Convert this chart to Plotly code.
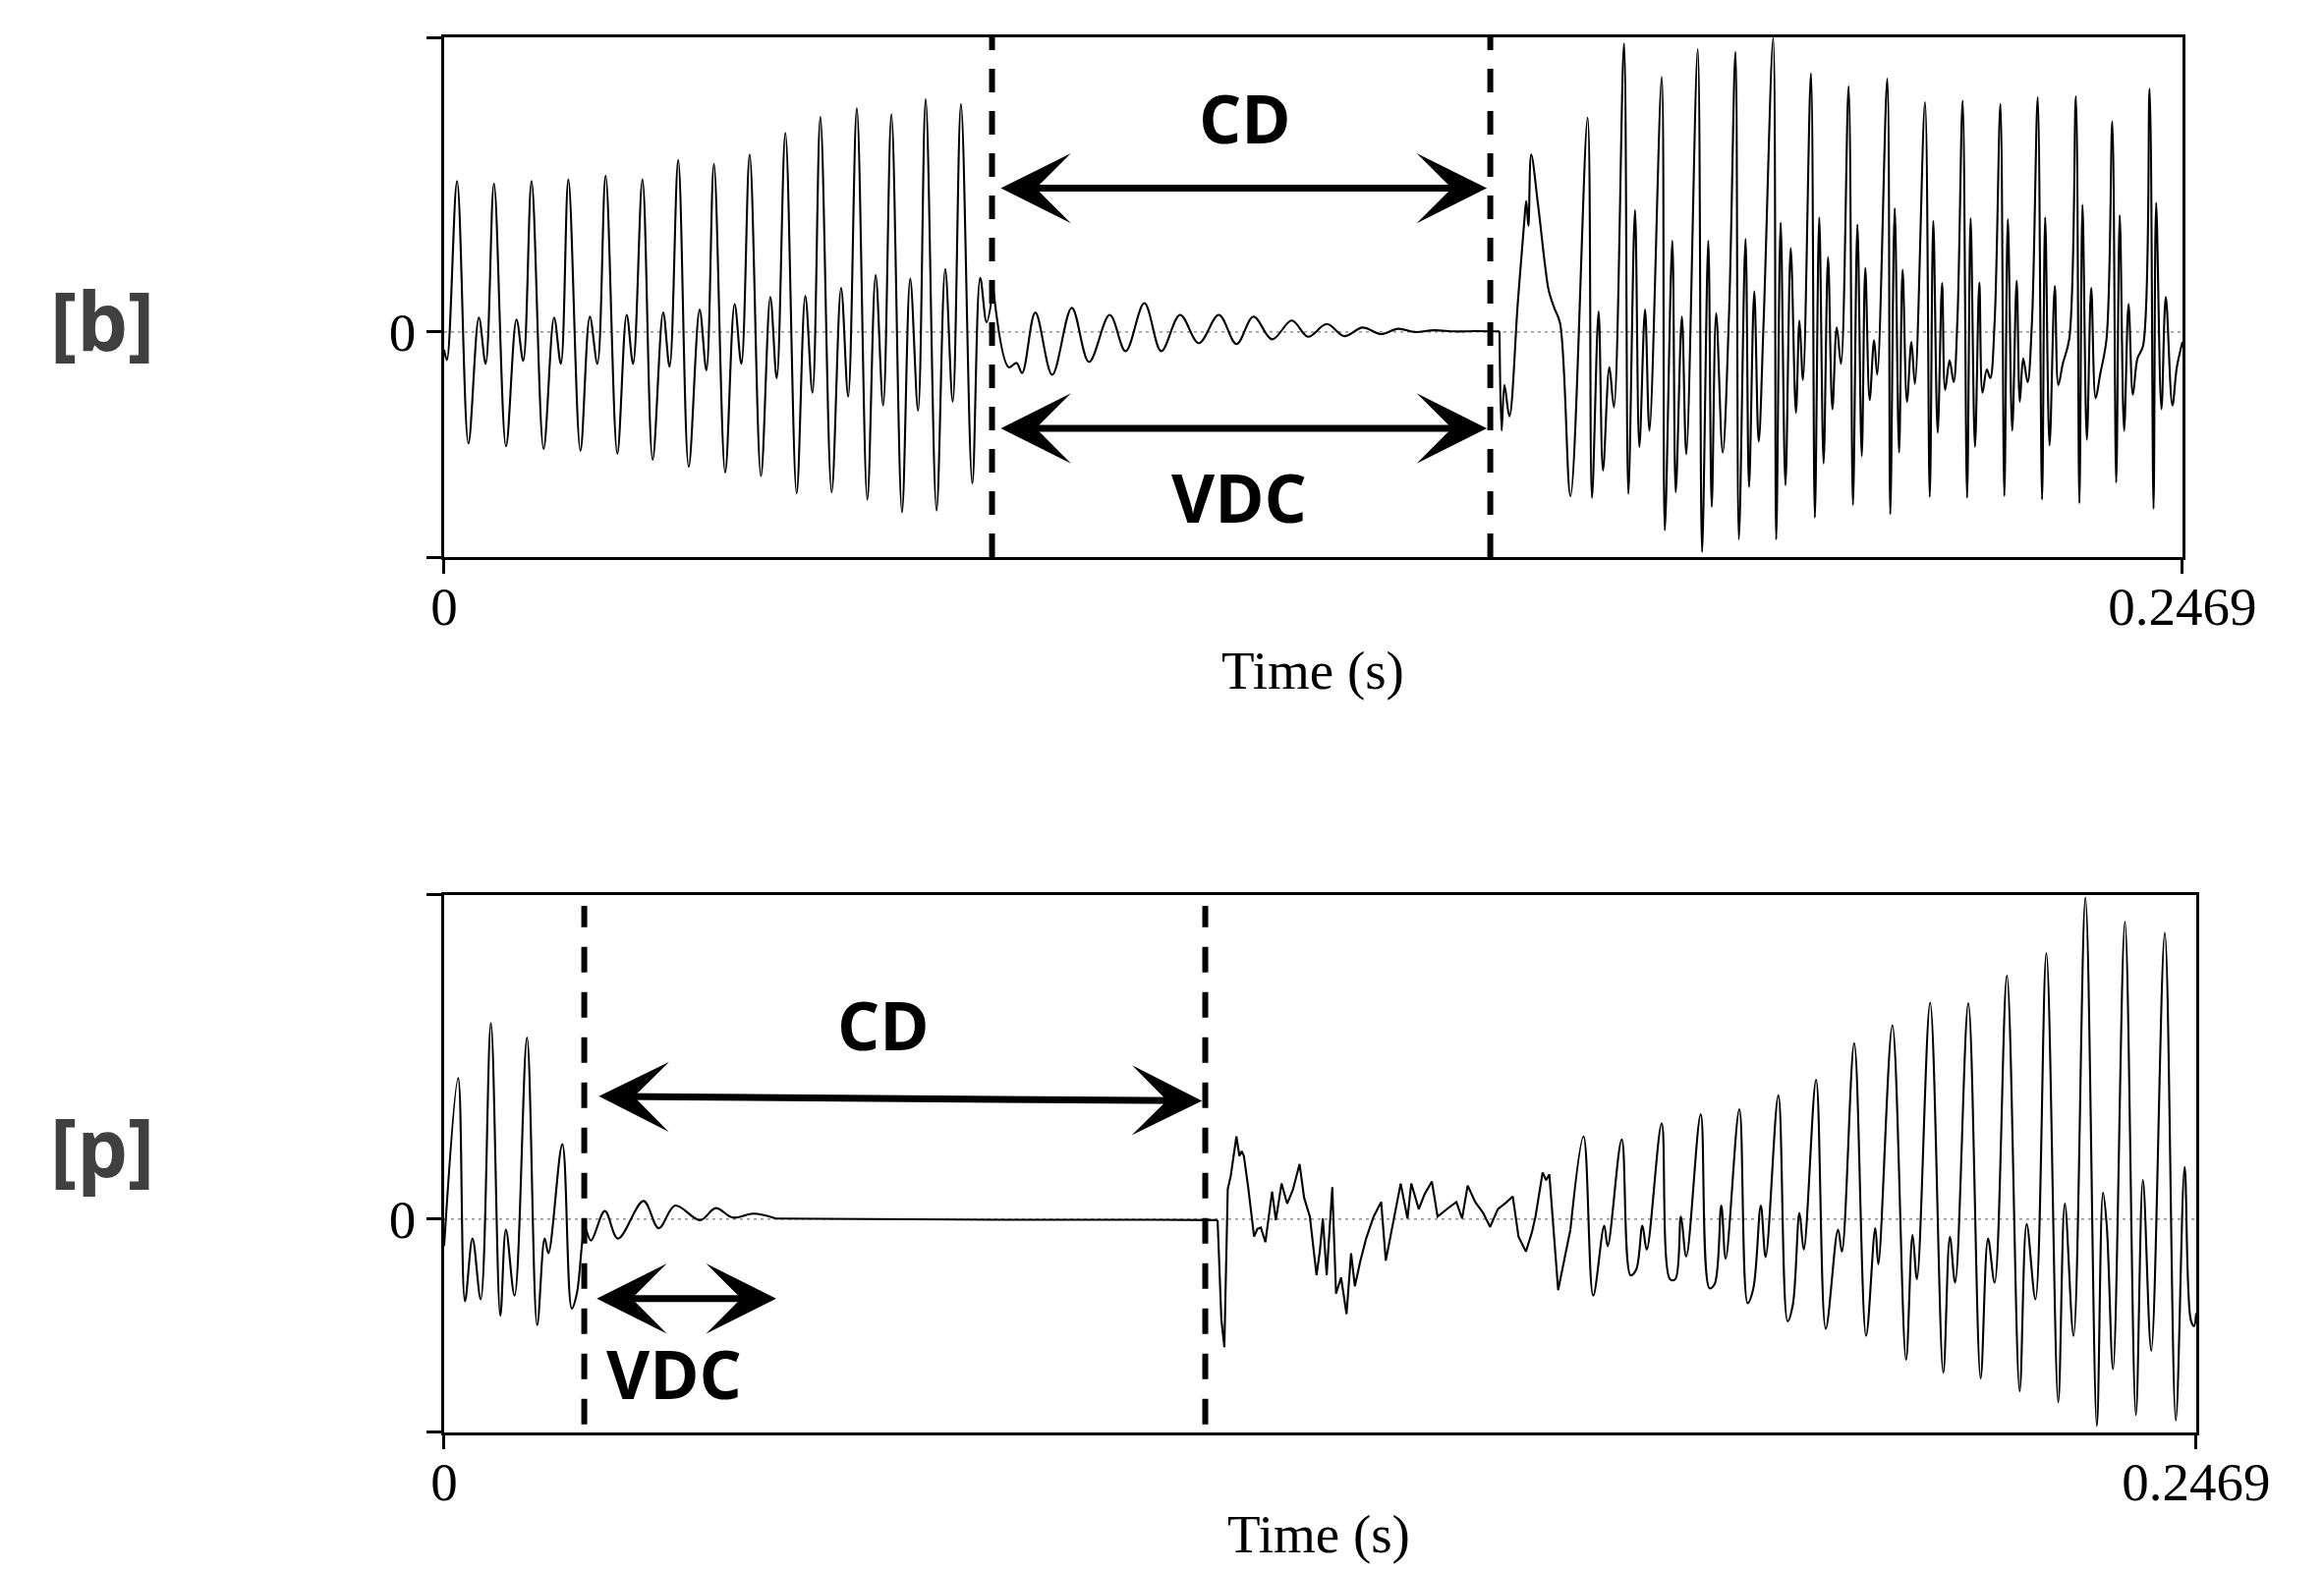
import plotly.graph_objects as go

# ---------------- data ----------------
# time in ms, amplitude normalised (top of each panel = 1)
time_ticks = [0, 0.2469]
time_tick_labels = ["0", "0.2469"]

# [b] panel
b_voicing = [(0.0,-0.06),(0.4,-0.095),
    (1.84,0.512),(3.45,-0.378),(4.94,0.049),(5.90,-0.108),
    (7.08,0.504),(8.79,-0.388),(10.28,0.042),(11.24,-0.098),
    (12.42,0.512),(14.13,-0.397),(15.62,0.049),(16.58,-0.108),
    (17.65,0.518),(19.36,-0.403),(20.70,0.052),(21.77,-0.108),
    (22.94,0.531),(24.60,-0.413),(25.93,0.058),(26.84,-0.108),
    (28.17,0.518),(29.62,-0.434),(31.11,0.066),(32.02,-0.118),
    (33.25,0.584),(34.74,-0.458),(36.29,0.076),(37.25,-0.130),
    (38.32,0.571),(39.92,-0.477),(41.26,0.095),(42.22,-0.108),
    (43.40,0.602),(45.00,-0.489),(46.33,0.119),(47.24,-0.157),
    (48.47,0.676),(50.07,-0.548),(51.30,0.122),(52.32,-0.206),
    (53.44,0.730),(55.04,-0.544),(56.38,0.150),(57.39,-0.219),
    (58.62,0.760),(60.11,-0.569),(61.29,0.193),(62.36,-0.249),
    (63.53,0.739),(65.03,-0.612),(66.20,0.181),(67.32,-0.267),
    (68.40,0.791),(69.94,-0.606),(71.17,0.214),(72.24,-0.237),
    (73.41,0.774),(75.02,-0.514),(76.14,0.184),(77.05,0.033),(77.99,0.15)]
b_closure = [(77.99,0.15),(80.2,-0.12),(81.3,-0.105),(82.1,-0.139),(83.97,0.066),
    (86.37,-0.145),(89.15,0.082),(91.6,-0.102),(94.54,0.058),(96.79,-0.065),
    (99.46,0.098),(101.86,-0.065),(104.53,0.058),(107.2,-0.038),(110.03,0.058),
    (112.54,-0.041),(114.95,0.052),(117.6,-0.025),(120.4,0.039),(122.7,-0.016),
    (125.36,0.027),(127.87,-0.014),(130.43,0.015),(133.1,-0.007),(135.5,0.011),
    (137.9,0.0),(140.6,0.006),(143.5,0.002),(146.5,0.003),(149.9,0.002)]
b_release = [(149.9,0.002),(150.2,-0.335),(150.6,-0.18),(151.3,-0.286),(152.5,0.1),
    (153.4,0.371),(153.7,0.445),(154.0,0.36),(154.4,0.602),(155.4,0.426),(156.4,0.22),
    (156.9,0.14),(157.7,0.08),(158.5,0.03),(159.98,-0.557),(162.41,0.727),(163.03,-0.563),
    (163.97,0.07),(164.6,-0.47),(165.5,-0.12),(166.15,-0.255),(167.58,0.979),(168.2,-0.55),
    (169.14,0.414),(169.76,-0.39),(170.57,0.076),(171.2,-0.335),(172.94,0.866),(173.38,-0.673),
    (174.44,0.31),(174.93,-0.544),(175.8,0.052),(176.43,-0.415),(178.05,0.96),(178.67,-0.747),
    (179.55,0.31),(180.04,-0.593),(180.67,0.064),(181.6,-0.409),(182.5,0.064),(183.41,0.951),
    (183.9,-0.704),(184.84,0.316),(185.34,-0.526),(186.08,0.138),(186.71,-0.372),(187.4,0.027),
    (188.77,0.998),(189.2,-0.704),(189.83,0.371),(190.51,-0.52),(191.26,0.285),(192.0,-0.274),
    (192.5,0.039),(193.0,-0.163),(194.13,0.878),(194.69,-0.63),(195.31,0.389),(195.93,-0.446),
    (196.56,0.254),(197.18,-0.262),(197.8,0.015),(198.4,-0.108),(199.48,0.834),(200.1,-0.587),
    (200.73,0.365),(201.35,-0.421),(201.85,0.217),(202.47,-0.231),(203.1,-0.028),(203.55,-0.145),
    (204.97,0.86),(205.4,-0.618),(206.03,0.42),(206.65,-0.409),(207.15,0.211),(207.77,-0.237),
    (208.4,-0.034),(208.9,-0.176),(210.33,0.78),(211.01,-0.56),(211.51,0.377),(212.13,-0.342),
    (212.76,0.166),(213.2,-0.197),(213.82,-0.096),(214.4,-0.17),(214.94,0.045),(215.68,0.786),
    (216.31,-0.563),(216.81,0.386),(217.43,-0.39),(218.05,0.168),(218.5,-0.206),(219.11,-0.127),
    (219.6,-0.157),(220.23,0.039),(221.04,0.774),(221.6,-0.557),(222.1,0.383),(222.72,-0.335),
    (223.35,0.174),(223.8,-0.237),(224.28,-0.09),(224.9,-0.17),(225.53,0.039),(226.34,0.797),
    (226.96,-0.569),(227.4,0.389),(228.02,-0.385),(228.77,0.156),(229.27,-0.18),(229.9,-0.108),
    (230.83,-0.022),(231.76,0.80),(232.26,-0.581),(232.7,0.432),(233.32,-0.366),(233.94,0.15),
    (234.57,-0.225),(235.2,-0.145),(236.12,-0.022),(236.93,0.715),(237.49,-0.511),(237.99,0.396),
    (238.61,-0.335),(239.24,0.095),(239.86,-0.213),(240.5,-0.09),(241.3,-0.047),(242.23,0.826),
    (242.79,-0.6),(243.16,0.439),(243.91,-0.262),(244.53,0.119),(245.47,-0.249),(246.1,-0.12),
    (246.9,-0.034)]

# [p] panel
p_voicing = [(0.0,-0.083),(1.98,0.435),(2.94,-0.253),(4.0,-0.06),(5.16,-0.247),(6.59,0.605),
    (7.92,-0.298),(8.71,-0.032),(9.93,-0.236),(11.68,0.56),(13.11,-0.327),(14.17,-0.06),
    (14.7,-0.105),(16.66,0.231),(17.99,-0.276),(18.7,-0.23),(19.47,-0.071),(19.84,-0.026),
    (20.69,-0.066),(22.65,0.025),(24.5,-0.06),(28.1,0.056),(30.23,-0.028),(32.56,0.042),
    (36.06,-0.003),(38.28,0.034),(40.67,0.005),(43.58,0.017),(46.76,0.002)]
p_closure = [(46.76,0.002),(60.0,0.0),(80.0,-0.002),(100.0,-0.002),(109.0,-0.003)]
p_burst = [(109.0,-0.003),(109.53,-0.31),(109.95,-0.395),(110.43,0.093),(110.85,0.133),
    (111.25,0.2),(111.65,0.255),(112.07,0.195),(112.4,0.21),(112.7,0.195),(113.3,0.1),
    (114.14,-0.054),(114.6,-0.03),(115.09,-0.026),(115.73,-0.071),(116.68,0.085),(117.21,-0.003),
    (118.01,0.11),(118.8,0.048),(119.6,0.09),(120.55,0.17),(121.2,0.065),(122.0,0.008),
    (122.94,-0.173),(123.4,-0.1),(123.83,0.002),(124.37,-0.173),(125.16,0.099),(125.69,-0.23),
    (126.4,-0.18),(127.17,-0.293),(127.81,-0.105),(128.34,-0.207),(129.13,-0.128),(129.93,-0.06),
    (130.99,0.008),(132.05,0.053),(132.7,-0.128),(133.64,-0.026),(134.8,0.11),(135.76,0.002),
    (136.29,0.11),(137.35,0.031),(138.15,0.076),(139.2,0.116),(140.0,0.008),(141.6,0.036),
    (142.65,0.053),(143.45,0.002),(144.24,0.104),(145.3,0.053),(146.4,0.02),(147.4,-0.024),
    (148.5,0.031),(149.6,0.05),(150.6,0.07),(151.4,-0.054),(152.45,-0.1),(153.3,-0.04),
    (153.8,0.008),(154.8,0.144),(155.3,0.12),(155.75,0.138),(156.99,-0.219),(157.9,-0.12),
    (158.72,-0.032)]
p_vowel = [(158.72,-0.032),(160.57,0.255),(161.93,-0.236),(163.48,-0.02),(163.97,-0.083),
    (165.95,0.246),(167.19,-0.173),(167.99,-0.156),(168.86,-0.02),(169.47,-0.094),(171.58,0.295),
    (172.75,-0.185),(173.5,-0.185),(174.29,0.008),(175.04,-0.115),(177.08,0.323),(178.31,-0.213),
    (179.05,-0.2),(179.98,0.042),(180.6,-0.122),(182.52,0.339),(183.69,-0.259),(184.5,-0.213),
    (185.55,0.042),(186.23,-0.117),(188.02,0.382),(189.32,-0.315),(190.06,-0.264),(190.99,0.019),
    (191.6,-0.094),(193.34,0.43),(194.7,-0.338),(196.43,-0.032),(196.98,-0.1),(198.71,0.543),
    (200.38,-0.36),(201.68,-0.028),(202.11,-0.139),(204.09,0.598),(206.01,-0.434),(206.93,-0.049),
    (207.55,-0.185),(209.41,0.668),(211.26,-0.474),(212.19,-0.054),(212.93,-0.196),(214.79,0.666),
    (216.52,-0.491),(217.57,-0.06),(218.5,-0.196),(220.23,0.751),(222.02,-0.531),(223.01,-0.015),
    (224.25,-0.247),(225.79,0.821),(227.46,-0.565),(228.39,0.048),(229.62,-0.36),(231.29,0.992),
    (232.9,-0.638),(233.77,0.082),(234.3,-0.02),(235.19,-0.463),(236.86,0.917),(238.4,-0.604),
    (239.39,0.121),(240.57,-0.406),(242.48,0.883),(244.03,-0.621),(245.27,0.161),(246.13,-0.31),
    (246.6,-0.33),(246.9,-0.29)]

# segment boundaries (s) and arrow spans (s, amplitude)
b_boundaries = [0.07782, 0.14859]
p_boundaries = [0.01975, 0.10726]
b_cd_arrow = (0.07886, 0.1481, 0.488, 0.488)
b_vdc_arrow = (0.07886, 0.1481, -0.327, -0.327)
p_cd_arrow = (0.0216, 0.1068, 0.379, 0.365)
p_vdc_arrow = (0.0213, 0.0468, -0.245, -0.245)
b_yrange = [-0.764, 1.0]
p_yrange = [-0.658, 1.0]

# ---------------- figure ----------------
fig = go.Figure()
WAVE = dict(color="#000000", width=2.1)

def add_seg(seg, xa, ya, shape):
    fig.add_trace(go.Scatter(
        x=[t / 1000 for t, _ in seg], y=[a for _, a in seg],
        xaxis=xa, yaxis=ya, mode="lines",
        line=dict(shape=shape, smoothing=1.0 if shape == "spline" else None, **WAVE),
        hoverinfo="skip", showlegend=False))

add_seg(b_voicing, "x", "y", "spline")
add_seg(b_closure, "x", "y", "spline")
add_seg(b_release, "x", "y", "spline")
add_seg(p_voicing, "x2", "y2", "spline")
add_seg(p_closure, "x2", "y2", "linear")
add_seg(p_burst, "x2", "y2", "linear")
add_seg(p_vowel, "x2", "y2", "spline")

serif = dict(family="Liberation Serif, Times New Roman, serif", size=55, color="black")
xcommon = dict(range=[0, 0.2469], tickvals=time_ticks, ticktext=time_tick_labels,
               ticks="outside", ticklen=14, tickwidth=2.5, tickcolor="black",
               showline=True, mirror=True, linecolor="black", linewidth=2.5,
               showgrid=False, zeroline=False, tickfont=serif, fixedrange=True,
               automargin=False, ticklabelstandoff=-14)
ycommon = dict(ticks="outside", ticklen=15, tickwidth=2.5, tickcolor="black",
               showline=True, mirror=True, linecolor="black", linewidth=2.5,
               showgrid=False, zeroline=False, tickfont=serif, fixedrange=True,
               automargin=False)

fig.update_layout(
    width=2365, height=1599, margin=dict(l=0, r=0, t=0, b=0, autoexpand=False),
    paper_bgcolor="white", plot_bgcolor="white", showlegend=False,
    xaxis=dict(domain=[0.1911, 0.9391], anchor="y", **xcommon),
    yaxis=dict(domain=[0.6454, 0.9762], anchor="x", range=b_yrange,
               tickvals=[b_yrange[0], 0, b_yrange[1]], ticktext=["", "0", ""], **ycommon),
    xaxis2=dict(domain=[0.1911, 0.9450], anchor="y2", **xcommon),
    yaxis2=dict(domain=[0.0882, 0.4303], anchor="x2", range=p_yrange,
                tickvals=[p_yrange[0], 0, p_yrange[1]], ticktext=["", "0", ""], **ycommon),
)

shapes = []
# dotted zero lines
for xr, yr in (("x", "y"), ("x2", "y2")):
    shapes.append(dict(type="line", xref=xr, yref=yr, x0=0, x1=0.2469, y0=0, y1=0,
                       line=dict(color="#777777", width=1.3, dash="3px,4px"), layer="below"))
# dashed boundaries
for xb in b_boundaries:
    shapes.append(dict(type="line", xref="x", yref="y domain", x0=xb, x1=xb, y0=0, y1=1,
                       line=dict(color="black", width=6, dash="24px,19px")))
for xb in p_boundaries:
    shapes.append(dict(type="line", xref="x2", yref="y2 domain", x0=xb, x1=xb, y0=0.015, y1=0.98,
                       line=dict(color="black", width=6, dash="26px,20px")))
fig.update_layout(shapes=shapes)

ann = []
def arrow(spec, xr, yr):
    x0, x1, y0, y1 = spec
    ann.append(dict(x=x1, y=y1, ax=x0, ay=y0, xref=xr, yref=yr, axref=xr, ayref=yr,
                    text="", showarrow=True, arrowside="end+start",
                    arrowhead=3, startarrowhead=3, arrowsize=1.7, startarrowsize=1.7,
                    arrowwidth=7, arrowcolor="black"))
arrow(b_cd_arrow, "x", "y")
arrow(b_vdc_arrow, "x", "y")
arrow(p_cd_arrow, "x2", "y2")
arrow(p_vdc_arrow, "x2", "y2")

C = dict(xanchor="center", yanchor="middle", showarrow=False)
bold = dict(family="Open Sans, Noto Sans, sans-serif", size=68, color="black", weight="bold")
ann += [
    dict(x=0.11375, y=0.7276, xref="x", yref="y", text="CD", font=bold, **C),
    dict(x=0.1129, y=-0.558, xref="x", yref="y", text="VDC", font=bold, **C),
    dict(x=0.0619, y=0.601, xref="x2", yref="y2", text="CD", font=bold, **C),
    dict(x=0.0324, y=-0.474, xref="x2", yref="y2", text="VDC", font=bold, **C),
]
lab = dict(family="Open Sans, Noto Sans, sans-serif", size=82, color="#404040", weight="bold")
ann += [
    dict(x=0.044, y=0.7967, xref="paper", yref="paper", text="[b]", font=lab, **C),
    dict(x=0.044, y=0.2708, xref="paper", yref="paper", text="[p]", font=lab, **C),
    dict(x=0.5649, y=0.5729, xref="paper", yref="paper", text="Time (s)", font=serif, **C),
    dict(x=0.5674, y=0.0235, xref="paper", yref="paper", text="Time (s)", font=serif, **C),
]
fig.update_layout(annotations=ann)

fig.write_html("out.html", config={"displayModeBar": False},
               post_script="document.body.style.margin='0';")
